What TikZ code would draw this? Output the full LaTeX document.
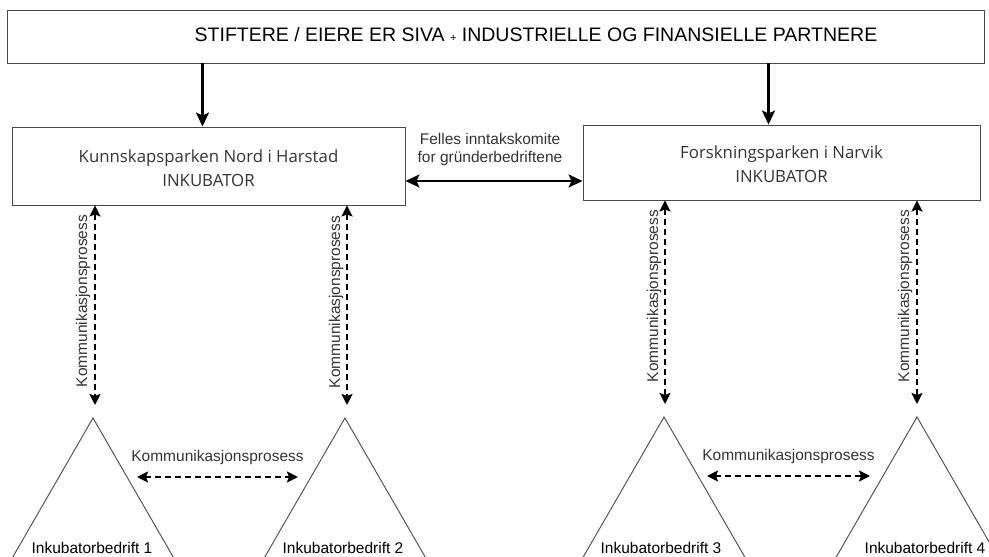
\documentclass[tikz,border=0pt]{standalone}
\usepackage{fontspec}
\setmainfont{Liberation Sans}
\newfontfamily\parkfont{Open Sans}
\usetikzlibrary{arrows.meta, positioning}
\definecolor{txtgray}{HTML}{333333}
\definecolor{linegray}{HTML}{484848}
\tikzstyle{block}=[draw=linegray,fill=white,rectangle,line width=0.9pt,inner sep=0pt]
\tikzstyle{link}=[-{Stealth[length=14pt,width=13pt,inset=3pt]},line width=2.2pt]
\tikzstyle{both}=[{Stealth[length=14pt,width=13pt,inset=3pt]}-{Stealth[length=14pt,width=13pt,inset=3pt]},line width=2.2pt]
\tikzstyle{talk}=[{Stealth[length=11pt,width=11pt,inset=2pt]}-{Stealth[length=11pt,width=11pt,inset=2pt]},line width=2.2pt,dash pattern=on 6pt off 4pt]
\tikzstyle{tri}=[draw=linegray,line width=0.9pt]
\tikzstyle{lbl}=[font=\fontsize{15.5}{18}\selectfont,text=txtgray,inner sep=0pt,align=center]
\tikzstyle{park}=[font=\parkfont\fontsize{16.8}{24}\selectfont,text=txtgray,align=center]

\begin{document}
\begin{tikzpicture}[x=1pt,y=-1pt]
    \clip (0,0) rectangle (989,557);

    % owners
    \node[block,minimum width=977pt,minimum height=53pt] (owners) at (495.5,36.5) {};
    \node[font=\fontsize{19.5}{22}\selectfont] (ownerstext) at (536,35)
        {STIFTERE / EIERE ER SIVA {\fontsize{11}{11}\selectfont+} INDUSTRIELLE OG FINANSIELLE PARTNERE};

    % incubators
    \node[block,minimum width=393pt,minimum height=78pt] (harstad) at (208.5,166) {};
    \node[park] at ([yshift=-2pt]harstad) {Kunnskapsparken Nord i Harstad\\INKUBATOR};
    \node[block,minimum width=397pt,minimum height=75pt] (narvik) at (781.5,162.5) {};
    \node[park] at ([yshift=-2pt]narvik) {Forskningsparken i Narvik\\INKUBATOR};

    \draw[link] ([xshift=-6pt]harstad.north |- owners.south) -- ([xshift=-6pt]harstad.north);
    \draw[link] ([xshift=-13pt]narvik.north |- owners.south) -- ([xshift=-13pt]narvik.north);

    \node[lbl] (intake) at (490,149) {Felles inntakskomite\\for gründerbedriftene};
    \draw[both] ([yshift=-15pt]harstad.east) -- ([yshift=-15pt]harstad.east -| narvik.west);

    % incubator companies
    \coordinate (a1) at (93,418);
    \coordinate (a2) at (345,418);
    \coordinate (a3) at (664,417);
    \coordinate (a4) at (917,417);
    \draw[tri] ([xshift=-90pt,yshift=-156pt]a1) -- (a1) -- ([xshift=90pt,yshift=-156pt]a1);
    \draw[tri] ([xshift=-90pt,yshift=-156pt]a2) -- (a2) -- ([xshift=90pt,yshift=-156pt]a2);
    \draw[tri] ([xshift=-90pt,yshift=-156pt]a3) -- (a3) -- ([xshift=90pt,yshift=-156pt]a3);
    \draw[tri] ([xshift=-90pt,yshift=-156pt]a4) -- (a4) -- ([xshift=90pt,yshift=-156pt]a4);
    \node[lbl,text=black] (b1) at (92,548) {Inkubatorbedrift 1};
    \node[lbl,text=black] (b2) at (343,548) {Inkubatorbedrift 2};
    \node[lbl,text=black] (b3) at (661,548) {Inkubatorbedrift 3};
    \node[lbl,text=black] (b4) at (925,548) {Inkubatorbedrift 4};

    % communication
    \draw[talk] ([xshift=2pt]harstad.south -| a1) -- ([yshift=13pt,xshift=2pt]a1);
    \draw[talk] ([xshift=2pt]harstad.south -| a2) -- ([yshift=13pt,xshift=2pt]a2);
    \draw[talk] ([xshift=1pt]narvik.south -| a3) -- ([yshift=13pt,xshift=1pt]a3);
    \draw[talk] (narvik.south -| a4) -- ([yshift=13pt]a4);
    \node[lbl,rotate=90] at (83,301) {Kommunikasjonsprosess};
    \node[lbl,rotate=90] at (336,302) {Kommunikasjonsprosess};
    \node[lbl,rotate=90] at (654,296) {Kommunikasjonsprosess};
    \node[lbl,rotate=90] at (905,296) {Kommunikasjonsprosess};

    \coordinate (h1a) at (137,477);
    \coordinate (h1b) at (298,477);
    \coordinate (h2a) at (707,476);
    \coordinate (h2b) at (870,476);
    \draw[talk] (h1a) -- node[lbl,above=11pt] {Kommunikasjonsprosess} (h1b);
    \draw[talk] (h2a) -- node[lbl,above=11pt] {Kommunikasjonsprosess} (h2b);
\end{tikzpicture}
\end{document}
